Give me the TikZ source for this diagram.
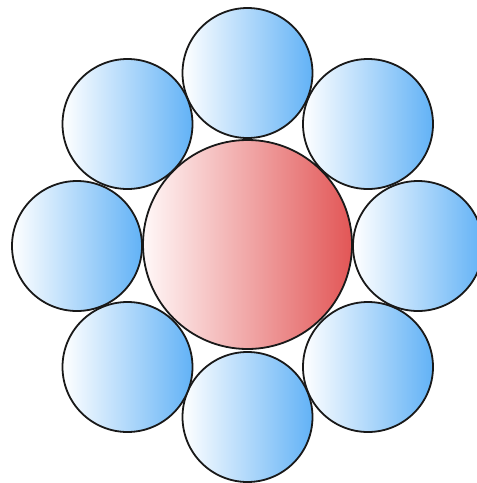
\documentclass[tikz,border=0pt]{standalone}
\begin{document}
\begin{tikzpicture}[x=1pt,y=-1pt,
  wire/.style={circle,draw=black!90,line width=1.8pt,inner sep=0pt,minimum size=130pt,
    left color=white,right color=wireblue},
  core/.style={circle,draw=black!90,line width=1.8pt,inner sep=0pt,minimum size=209pt,
    left color=corelight,right color=corered}]
\definecolor{wireblue}{RGB}{98,178,246}
\definecolor{corelight}{RGB}{255,248,248}
\definecolor{corered}{RGB}{226,86,86}
\useasboundingbox (0,0) rectangle (477,483);
\clip (0,0) rectangle (477,483);
\fill[white] (0,0) rectangle (477,483);
\node[wire] (t)  at (247.5,73) {};
\node[wire] (b)  at (247.5,417) {};
\node[wire] (l)  at (77,246) {};
\node[wire] (r)  at (418,246) {};
\node[wire] (tl) at (127.5,124) {};
\node[wire] (tr) at (368,124) {};
\node[wire] (bl) at (127.5,367) {};
\node[wire] (br) at (368,367) {};
\node[core] (c)  at (247.5,244.5) {};
\end{tikzpicture}
\end{document}
